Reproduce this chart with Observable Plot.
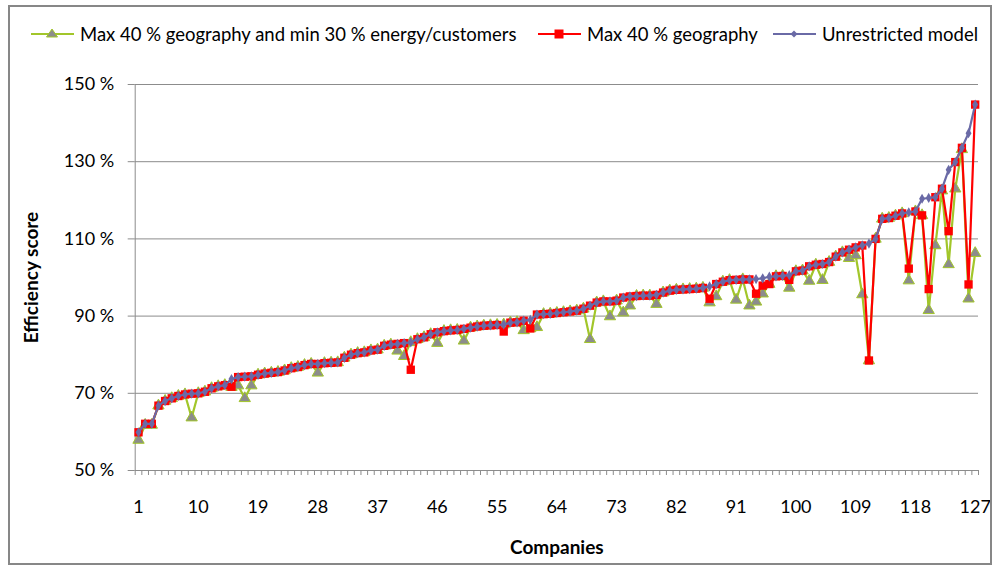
<!DOCTYPE html>
<html><head><meta charset="utf-8">
<script src="https://cdn.jsdelivr.net/npm/d3@7"></script>
<script src="https://cdn.jsdelivr.net/npm/@observablehq/plot@0.6"></script>
<style>
body{margin:0;background:#fff;font-family:Lato,"Open Sans",sans-serif;}
#wrap{position:relative;width:994px;height:567px;overflow:hidden;background:#fff;}
#border{position:absolute;left:8px;top:5px;width:980px;height:556px;border:2px solid #878787;pointer-events:none;}
#legend{position:absolute;left:0;top:0;width:994px;height:60px;}
.item{position:absolute;top:22px;height:24px;display:flex;align-items:center;font-size:18.5px;color:#000;white-space:nowrap;}
.item svg{margin-right:6px;}
#chart{position:absolute;left:0;top:60px;}
</style></head>
<body>
<div id="wrap"><div id="legend"></div><div id="chart"></div><div id="border"></div></div>
<script>
const seriesNames = ["Max 40 % geography and min 30 % energy/customers", "Max 40 % geography", "Unrestricted model"];
const seriesColors = ["#a2c62a", "#ff0000", "#6a6aa6"];
const companies = Array.from({length: 127}, (_, i) => i + 1);
const xTickLabels = [1, 10, 19, 28, 37, 46, 55, 64, 73, 82, 91, 100, 109, 118, 127];
const yTicks = [50, 70, 90, 110, 130, 150];

const unrestricted = [
59.9, 62.1, 62.1, 66.8, 68.0, 68.7, 69.3, 69.7, 69.9, 70.0,
70.4, 71.3, 71.8, 72.1, 73.7, 74.2, 74.3, 74.4, 74.8, 75.1,
75.3, 75.5, 75.9, 76.5, 76.8, 77.3, 77.6, 77.6, 77.8, 77.9,
78.0, 79.2, 80.0, 80.4, 80.6, 81.1, 81.3, 82.3, 82.6, 82.8,
83.0, 83.2, 84.0, 84.5, 85.3, 85.8, 86.1, 86.3, 86.4, 86.7,
87.0, 87.3, 87.5, 87.6, 87.7, 87.8, 88.3, 88.4, 88.8, 89.0,
90.4, 90.5, 90.6, 90.8, 91.0, 91.2, 91.4, 91.9, 92.7, 93.5,
93.8, 93.8, 94.0, 94.8, 95.1, 95.2, 95.3, 95.3, 95.5, 96.1,
96.6, 96.8, 96.9, 97.0, 97.1, 97.3, 97.7, 98.3, 98.9, 99.3,
99.4, 99.5, 99.5, 99.6, 99.8, 100.2, 100.3, 100.4, 100.6, 101.6,
101.8, 102.9, 103.3, 103.5, 104.0, 105.4, 106.5, 107.2, 107.8, 108.3,
108.8, 110.0, 115.2, 115.4, 116.0, 116.6, 116.9, 117.1, 120.4, 120.6,
120.8, 123.0, 127.9, 129.9, 133.6, 137.4, 144.8];

const maxGeography = [
59.9, 62.1, 62.1, 66.8, 68.0, 68.7, 69.3, 69.7, 69.9, 70.0,
70.4, 71.3, 71.8, 72.1, 71.7, 74.2, 74.3, 74.4, 74.8, 75.1,
75.3, 75.5, 75.9, 76.5, 76.8, 77.3, 77.6, 77.6, 77.8, 77.9,
78.0, 79.2, 80.0, 80.4, 80.6, 81.1, 81.3, 82.3, 82.6, 82.8,
83.0, 76.1, 84.0, 84.5, 85.3, 85.8, 86.1, 86.3, 86.4, 86.7,
87.0, 87.3, 87.5, 87.6, 87.7, 86.0, 88.3, 88.4, 88.8, 86.8,
90.4, 90.5, 90.6, 90.8, 91.0, 91.2, 91.4, 91.9, 92.7, 93.5,
93.8, 93.8, 94.0, 94.8, 95.1, 95.2, 95.3, 95.3, 95.5, 96.1,
96.6, 96.8, 96.9, 97.0, 97.1, 97.3, 94.5, 98.3, 98.9, 99.3,
99.4, 99.5, 99.5, 95.8, 97.9, 98.3, 100.3, 100.4, 99.4, 101.6,
101.8, 102.9, 103.3, 103.5, 104.0, 105.4, 106.5, 107.2, 107.8, 108.3,
78.5, 110.0, 115.2, 115.4, 116.0, 116.6, 102.3, 117.1, 116.1, 97.0,
120.8, 123.0, 112.0, 129.9, 133.6, 98.2, 144.8];

const maxGeoMinEnergy = [
57.9, 61.8, 61.8, 66.8, 68.0, 68.7, 69.3, 69.7, 63.7, 70.0,
70.4, 71.3, 71.8, 72.1, 71.6, 72.0, 68.7, 72.0, 74.8, 75.1,
75.3, 75.5, 75.9, 76.5, 76.8, 77.3, 77.6, 75.3, 77.8, 77.9,
78.0, 79.2, 80.0, 80.4, 80.6, 81.1, 81.3, 82.3, 82.6, 81.0,
79.6, 83.2, 84.0, 84.5, 85.3, 83.0, 86.1, 86.3, 86.4, 83.6,
87.0, 87.3, 87.5, 87.6, 87.7, 87.8, 88.3, 88.4, 86.3, 86.8,
87.1, 90.5, 90.6, 90.8, 91.0, 91.2, 91.4, 91.9, 84.0, 93.5,
93.8, 89.9, 94.0, 90.9, 92.7, 95.2, 95.3, 95.3, 93.1, 96.1,
96.6, 96.8, 96.9, 97.0, 97.1, 97.3, 93.5, 95.1, 98.9, 99.3,
94.2, 99.5, 92.7, 93.7, 95.8, 98.3, 100.3, 100.4, 97.3, 101.6,
101.8, 99.1, 103.3, 99.3, 104.0, 105.4, 106.5, 105.0, 105.7, 95.6,
78.5, 110.0, 115.2, 115.4, 116.0, 116.6, 99.2, 117.1, 116.1, 91.5,
108.3, 122.5, 103.4, 123.0, 133.2, 94.5, 106.3];

const rows = (vals) => companies.map((c, i) => ({company: c, value: vals[i]}));
const gData = rows(maxGeoMinEnergy), rData = rows(maxGeography), uData = rows(unrestricted);
const boundaries = [...companies.map(c => c - 0.5), companies.length + 0.5];
const grey = "#8c8c8c";

// Legend
const legend = document.getElementById("legend");
const legendLeft = [31, 538, 773];
const symbols = [
  `<polygon points="21,5 26.5,13 15.5,13" fill="#8c8c8c" stroke="${seriesColors[0]}" stroke-width="1"/>`,
  `<rect x="16.5" y="5.5" width="9" height="9" fill="#ff0000"/>`,
  `<polygon points="21,6.5 24.5,10 21,13.5 17.5,10" fill="${seriesColors[2]}"/>`
];
seriesNames.forEach((name, i) => {
  const d = document.createElement("div");
  d.className = "item";
  d.style.left = legendLeft[i] + "px";
  d.innerHTML = `<svg width="43" height="20"><line x1="0" x2="43" y1="10" y2="10" stroke="${seriesColors[i]}" stroke-width="2"/>${symbols[i]}</svg><span>${name}</span>`;
  legend.appendChild(d);
});

const chart = Plot.plot({
  width: 994,
  height: 507,
  marginLeft: 134.7,
  marginRight: 16,
  marginTop: 24,
  marginBottom: 97,
  style: {fontFamily: "Lato, 'Open Sans', sans-serif", fontSize: "18px", color: "#000", background: "transparent"},
  x: {type: "linear", domain: [0.5, companies.length + 0.5]},
  y: {domain: [50, 150]},
  marks: [
    Plot.ruleY(yTicks, {stroke: grey, strokeWidth: 1}),
    Plot.ruleX([0.5], {stroke: grey, strokeWidth: 1}),
    Plot.axisY({ticks: yTicks, tickSize: 7, tickPadding: 14, stroke: grey, tickFormat: d => d + " %", label: null}),
    Plot.axisX({ticks: boundaries, tickSize: 5, stroke: grey, tickFormat: () => "", label: null}),
    Plot.axisX({ticks: xTickLabels, tickSize: 0, tickPadding: 30, tickFormat: d => String(d), label: null}),
    Plot.text(["Companies"], {frameAnchor: "bottom", dy: 83, fontWeight: "bold", fontSize: 19}),
    Plot.text(["Efficiency score"], {frameAnchor: "left", dx: -103, rotate: -90, textAnchor: "middle", fontWeight: "bold", fontSize: 19}),
    Plot.line(gData, {x: "company", y: "value", stroke: seriesColors[0], strokeWidth: 2.2}),
    Plot.dot(gData, {x: "company", y: "value", symbol: "triangle", r: 4.2, fill: "#8c8c8c", stroke: seriesColors[0], strokeWidth: 1}),
    Plot.line(rData, {x: "company", y: "value", stroke: seriesColors[1], strokeWidth: 2.2}),
    Plot.dot(rData, {x: "company", y: "value", symbol: "square", r: 4.7, fill: "#ff0000", stroke: "none"}),
    Plot.line(uData, {x: "company", y: "value", stroke: seriesColors[2], strokeWidth: 2.2}),
    Plot.dot(uData, {x: "company", y: "value", symbol: "diamond", r: 3.1, fill: seriesColors[2], stroke: "none"})
  ]
});
document.getElementById("chart").appendChild(chart);
</script>
</body></html>
